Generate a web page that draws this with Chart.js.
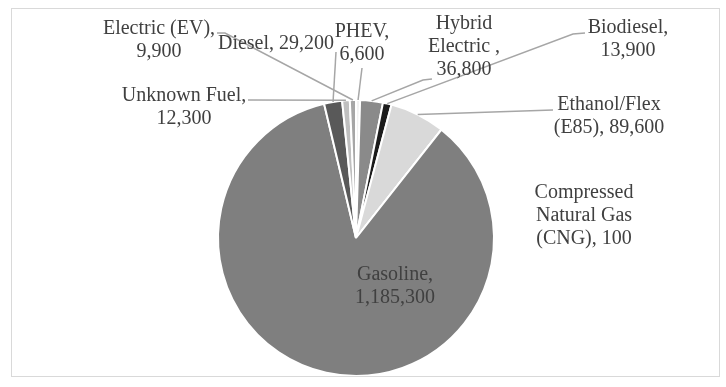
<!DOCTYPE html>
<html>
<head>
<meta charset="utf-8">
<script src="https://cdn.jsdelivr.net/npm/chart.js@4"></script>
<style>
  body { margin: 0; background: #fff; }
  canvas { display: block; }
</style>
</head>
<body>
<canvas id="fuelChart" width="726" height="387"></canvas>
<script>
// clockwise from 12 o'clock, as in the picture
const fuelTypes = ["PHEV", "Hybrid Electric", "Biodiesel", "Ethanol/Flex (E85)",
  "Compressed Natural Gas (CNG)", "Gasoline", "Diesel", "Unknown Fuel", "Electric (EV)"];
const vehicleCounts = [6600, 36800, 13900, 89600, 100, 1185300, 29200, 12300, 9900];
const sliceColors = ["#f2f2f2", "#8a8a8a", "#1c1c1c", "#d9d9d9", "#404040",
  "#7f7f7f", "#595959", "#bfbfbf", "#a6a6a6"];

// how each label is broken into lines ("#" is the value)
const labelLines = [
  ["PHEV,", "#"],
  ["Hybrid", "Electric ,", "#"],
  ["Biodiesel,", "#"],
  ["Ethanol/Flex", "(E85), #"],
  ["Compressed", "Natural Gas", "(CNG), #"],
  ["Gasoline,", "#"],
  ["Diesel, #"],
  ["Unknown Fuel,", "#"],
  ["Electric (EV),", "#"],
];

// label centre (first line) and leader start
const labelPos = [
  { x: 362, y: 32, leader: [[362, 68]] },
  { x: 464, y: 24, leader: [[432, 79], [423, 80]] },
  { x: 628, y: 28, leader: [[585, 33], [573, 34]] },
  { x: 609, y: 105, leader: [[553, 110]] },
  { x: 584, y: 193, leader: null },
  { x: 395, y: 275, leader: null },
  { x: 276, y: 44, leader: [[336, 52]] },
  { x: 184, y: 96, leader: [[248, 100]] },
  { x: 159, y: 29, leader: [[217, 33], [225, 33]] },
];

function fmt(n) {
  return n.toLocaleString("en-US");
}

const labelPlugin = {
  id: "fuelLabels",
  afterDraw(chart) {
    const ctx = chart.ctx;
    const meta = chart.getDatasetMeta(0);

    ctx.save();
    ctx.strokeStyle = "#d9d9d9";
    ctx.lineWidth = 1;
    ctx.strokeRect(11.5, 8.5, 708, 368);

    ctx.strokeStyle = "#a6a6a6";
    ctx.lineWidth = 1.5;
    meta.data.forEach((arc, i) => {
      const pos = labelPos[i];
      if (!pos.leader) return;
      const p = arc.getProps(["x", "y", "startAngle", "endAngle", "outerRadius"], true);
      const mid = (p.startAngle + p.endAngle) / 2;
      const ex = p.x + Math.cos(mid) * p.outerRadius;
      const ey = p.y + Math.sin(mid) * p.outerRadius;
      ctx.beginPath();
      ctx.moveTo(pos.leader[0][0], pos.leader[0][1]);
      pos.leader.slice(1).forEach((pt) => ctx.lineTo(pt[0], pt[1]));
      ctx.lineTo(ex, ey);
      ctx.stroke();
    });

    ctx.fillStyle = "#404040";
    ctx.font = '20px "Liberation Serif"';
    ctx.textAlign = "center";
    ctx.textBaseline = "middle";
    labelLines.forEach((lines, i) => {
      const pos = labelPos[i];
      lines.forEach((line, k) => {
        const text = line.replace("#", fmt(vehicleCounts[i]));
        ctx.fillText(text, pos.x, pos.y + k * 23);
      });
    });
    ctx.restore();
  },
};

new Chart(document.getElementById("fuelChart"), {
  type: "pie",
  data: {
    labels: fuelTypes,
    datasets: [
      {
        data: vehicleCounts,
        backgroundColor: sliceColors,
        borderColor: "#ffffff",
        borderWidth: 2,
      },
    ],
  },
  options: {
    responsive: false,
    animation: false,
    layout: {
      padding: { top: 99, bottom: 10, left: 217, right: 231 },
    },
    plugins: {
      legend: { display: false },
      tooltip: { enabled: false },
    },
  },
  plugins: [labelPlugin],
});
</script>
</body>
</html>
